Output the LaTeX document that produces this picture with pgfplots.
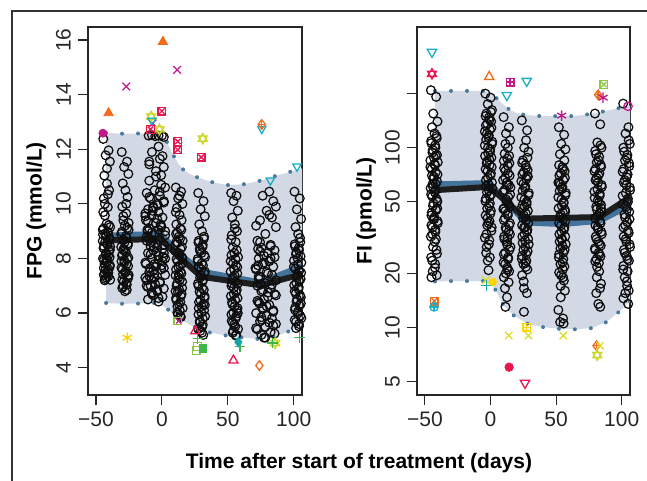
\documentclass[border=0pt]{standalone}
\usepackage{fontspec}
\setmainfont{Liberation Sans}
\usepackage{pgfplots}
\pgfplotsset{compat=1.18}
\usepackage{pgfplotstable}

\definecolor{bandfill}{HTML}{D3D9E4}
\definecolor{banddot}{HTML}{4A7A9E}
\definecolor{bluel}{HTML}{43729A}
\definecolor{blackl}{HTML}{1E1E1E}
\definecolor{cmag}{HTML}{C2188C}
\definecolor{corange}{HTML}{F26A1B}
\definecolor{ccrim}{HTML}{E8174F}
\definecolor{cyg}{HTML}{CDD62A}
\definecolor{ccyan}{HTML}{19AFC6}
\definecolor{cgold}{HTML}{FFD400}
\definecolor{cgreen}{HTML}{3DB54A}
\definecolor{clime}{HTML}{8DC63F}
\definecolor{cteal}{HTML}{15A3A8}
\definecolor{cyel}{HTML}{D9DE2A}

% FPG circles (day, mmol/L)
\pgfplotstableread{
x y
-44.4 12.38
-40.4 11.96
-42.6 11.78
-39.4 11.55
-43.6 11.04
-41.6 10.74
-40.0 10.5
-44.0 10.2
-41.0 9.88
-43.2 9.58
-42.0 9.27
-39.2 9.15
-44.8 9.05
-40.8 8.95
-42.2 8.82
-39.8 8.7
-43.0 8.6
-41.2 8.5
-44.2 8.38
-40.2 8.27
-42.4 8.15
-39.6 8.05
-43.8 7.95
-41.8 7.85
-39.4 7.75
-44.0 7.65
-41.0 7.55
-43.2 7.45
-40.6 7.35
-42.8 7.25
-44.6 8.88
-39.2 8.44
-42.0 8.0
-40.4 7.6
-43.4 7.2
-30.4 11.9
-26.4 11.55
-28.6 11.35
-25.4 11.1
-29.6 10.75
-27.6 10.5
-26.0 10.25
-30.0 9.9
-27.0 9.65
-29.2 9.4
-28.0 9.2
-25.2 9.05
-30.8 8.9
-26.8 8.75
-28.2 8.6
-25.8 8.48
-29.0 8.35
-27.2 8.22
-30.2 8.1
-26.2 7.98
-28.4 7.85
-25.6 7.72
-29.8 7.6
-27.8 7.48
-25.4 7.35
-30.0 7.22
-27.0 7.1
-29.2 6.98
-26.6 6.85
-28.8 8.3
-30.6 7.9
-25.2 7.4
-10.0 12.5
-7.5 12.52
-5.0 12.48
-2.5 12.5
0.0 12.5
1.5 12.45
-2.5 12.1
-7.5 11.9
0.5 11.75
-9.5 11.55
1.5 11.35
-4.5 11.2
-0.5 11.05
-9.5 10.85
2.5 10.6
-5.5 10.5
-11.5 10.4
-1.5 10.3
-8.5 10.2
1.5 10.1
-3.5 10.0
-6.5 9.9
-10.5 9.8
-2.5 9.7
-7.5 9.6
0.5 9.5
-12.0 9.4
-4.5 9.3
-0.5 9.2
-9.5 9.1
2.5 9.0
-5.5 8.9
-11.5 8.8
-1.5 8.7
-8.5 8.6
1.5 8.5
-3.5 8.4
-6.5 8.3
-10.5 8.2
-2.5 8.1
-7.5 8.0
0.5 7.9
-12.0 7.8
-4.5 7.7
-0.5 7.6
-9.5 7.5
2.5 7.4
-5.5 7.3
-11.5 7.2
-1.5 7.1
-8.5 7.0
1.5 6.9
-3.5 6.8
-6.5 6.65
-10.5 6.5
-2.5 6.42
-7.0 9.75
-1.0 9.25
-10.0 8.75
-4.0 8.25
0.0 7.75
-8.0 7.25
-3.0 9.95
-11.0 9.05
-6.0 8.45
1.0 8.05
-9.0 7.65
-5.0 7.05
10.6 10.6
14.6 10.45
12.4 10.2
15.6 10.0
11.4 9.85
13.4 9.6
15.0 9.4
11.0 9.25
14.0 9.1
11.8 8.95
13.0 8.8
15.8 8.65
10.2 8.5
14.2 8.35
12.8 8.2
15.2 8.05
12.0 7.9
13.8 7.75
10.8 7.6
14.8 7.45
12.6 7.3
15.4 7.15
11.2 7.0
13.2 6.85
15.0 6.7
10.8 6.55
14.0 6.4
11.8 6.25
13.6 6.1
12.2 5.95
14.4 5.85
11.0 8.6
15.6 8.0
13.0 7.4
10.4 6.8
27.6 10.4
31.6 10.1
29.4 9.8
32.6 9.55
28.4 9.25
30.4 9.0
32.0 8.8
28.0 8.65
31.0 8.5
28.8 8.35
30.0 8.2
32.8 8.05
27.2 7.9
31.2 7.75
29.8 7.6
32.2 7.45
29.0 7.3
30.8 7.15
27.8 7.0
31.8 6.85
29.6 6.7
32.4 6.55
28.2 6.4
30.2 6.25
32.0 6.1
27.8 5.95
31.0 5.8
28.8 5.65
30.6 5.5
29.2 5.35
31.4 5.2
28.0 7.7
32.6 6.3
52.6 10.4
56.6 10.3
54.4 10.1
57.6 9.75
53.4 9.5
55.4 9.25
57.0 9.0
53.0 8.85
56.0 8.6
53.8 8.4
55.0 8.2
57.8 8.05
52.2 7.9
56.2 7.75
54.8 7.6
57.2 7.45
54.0 7.3
55.8 7.15
52.8 7.0
56.8 6.85
54.6 6.7
57.4 6.55
53.2 6.4
55.2 6.25
57.0 6.1
52.8 5.95
56.0 5.8
53.8 5.65
55.6 5.5
54.2 5.35
56.4 5.2
53.0 7.1
57.6 6.0
81.5 10.45
76.5 10.3
84.5 10.1
86.5 9.9
79.5 9.75
83.5 9.5
74.5 9.4
86.5 9.15
78.5 8.9
72.5 8.65
82.5 8.5
75.5 8.4
85.5 8.3
80.5 8.2
77.5 8.1
73.5 8.0
81.5 7.9
76.5 7.8
84.5 7.7
71.5 7.6
79.5 7.5
83.5 7.4
74.5 7.3
86.5 7.2
78.5 7.1
72.5 7.0
82.5 6.9
75.5 6.8
85.5 6.7
80.5 6.6
77.5 6.5
73.5 6.4
81.5 6.3
76.5 6.2
84.5 6.1
71.5 6.0
79.5 5.9
83.5 5.8
74.5 5.7
86.5 5.6
78.5 5.5
72.5 5.4
82.5 5.3
75.5 5.2
77.5 5.1
73.0 7.75
75.0 7.05
74.0 6.35
76.0 5.75
73.0 8.35
100.6 10.45
104.6 10.2
102.4 9.8
105.6 9.45
101.4 9.15
103.4 8.9
105.0 8.6
101.0 8.45
104.0 8.3
101.8 8.15
103.0 8.0
105.8 7.85
100.2 7.7
104.2 7.55
102.8 7.4
105.2 7.25
102.0 7.1
103.8 6.95
100.8 6.8
104.8 6.65
102.6 6.5
105.4 6.35
101.2 6.2
103.2 6.05
105.0 5.9
100.8 5.75
104.0 5.6
101.8 5.45
}\fpgdata

% FPG circles, further subjects in the dense parts of each visit
\pgfplotstableread{
x y
-40.2 9.22
-44.2 9.1
-41.2 8.98
-43.0 8.9
-39.8 8.76
-44.8 8.64
-41.8 8.55
-43.8 8.44
-39.4 8.32
-42.4 8.2
-40.8 8.1
-44.6 8.0
-41.4 7.9
-43.4 7.8
-39.6 7.7
-42.8 7.58
-40.6 7.48
-44.0 7.4
-42.0 7.3
-39.2 7.22
-43.2 10.0
-41.0 10.35
-44.4 9.7
-41.6 11.3
-26.2 9.12
-30.2 8.98
-27.2 8.82
-29.0 8.68
-25.8 8.55
-30.8 8.42
-27.8 8.28
-29.8 8.15
-25.4 8.03
-28.4 7.92
-26.8 7.8
-30.6 7.66
-27.4 7.54
-29.4 7.42
-25.6 7.28
-28.8 7.16
-26.6 7.04
-30.0 6.92
-28.0 6.8
-25.2 9.3
-29.2 9.55
-27.0 10.0
-1.5 10.45
-9.5 10.25
1.5 10.05
-6.5 9.85
-12.5 9.65
-3.5 9.45
-10.5 9.35
-0.5 9.15
-7.5 8.95
2.5 8.85
-11.5 8.65
-4.5 8.55
0.5 8.35
-8.5 8.15
-2.5 7.95
-12.5 7.85
1.5 7.65
-5.5 7.45
-9.5 7.35
-1.5 7.15
-10.5 6.95
-3.5 6.85
-7.5 6.7
0.5 6.6
-12.5 9.55
-2.5 9.05
-8.5 8.45
2.5 8.0
-6.5 7.55
-11.5 7.0
-0.5 10.7
-4.5 11.0
-9.5 11.45
-1.5 11.65
-10.5 9.0
1.5 8.2
-5.5 7.8
-12.5 7.3
-2.5 6.55
-7.5 6.75
14.8 9.05
10.8 8.9
13.8 8.72
12.0 8.58
15.2 8.42
10.2 8.28
13.2 8.12
11.2 7.98
15.6 7.82
12.6 7.68
14.2 7.52
10.4 7.38
13.6 7.22
11.6 7.08
15.4 6.92
12.2 6.78
14.4 6.62
11.0 6.48
13.0 6.32
15.8 6.18
11.8 6.02
14.0 5.9
10.6 9.7
13.4 10.3
31.8 8.72
27.8 8.58
30.8 8.42
29.0 8.28
32.2 8.12
27.2 7.98
30.2 7.82
28.2 7.68
32.6 7.52
29.6 7.38
31.2 7.22
27.4 7.08
30.6 6.92
28.6 6.78
32.4 6.62
29.2 6.48
31.4 6.32
28.0 6.18
30.0 6.02
32.8 5.88
28.8 5.72
31.0 5.58
27.6 5.42
30.4 5.28
56.8 8.3
52.8 8.12
55.8 7.98
54.0 7.82
57.2 7.68
52.2 7.52
55.2 7.38
53.2 7.22
57.6 7.08
54.6 6.92
56.2 6.78
52.4 6.62
55.6 6.48
53.6 6.32
57.4 6.18
54.2 6.02
56.4 5.88
53.0 5.72
55.0 5.58
57.8 5.42
53.8 5.28
56.0 5.18
52.6 8.7
55.4 9.1
82.5 8.45
74.5 8.25
85.5 8.05
77.5 7.85
71.0 7.65
80.5 7.45
73.5 7.25
83.5 7.05
76.5 6.85
86.5 6.65
72.5 6.45
79.5 6.25
84.5 6.05
75.5 5.85
81.5 5.65
71.5 5.45
85.5 5.25
78.5 5.1
74.5 8.6
82.5 8.0
73.5 7.35
80.5 6.75
76.5 6.15
84.5 5.55
71.5 9.2
81.5 9.6
104.8 8.75
100.8 8.52
103.8 8.38
102.0 8.22
105.2 8.08
100.2 7.92
103.2 7.78
101.2 7.62
105.6 7.48
102.6 7.32
104.2 7.18
100.4 7.02
103.6 6.88
101.6 6.72
105.4 6.58
102.2 6.42
104.4 6.28
101.0 6.12
103.0 5.98
105.8 5.82
101.8 5.68
104.0 5.52
}\fpgextra

% FI circles (day, pmol/L)
\pgfplotstableread{
x y
-45.4 209
-41.4 192
-43.6 155
-40.4 140
-44.6 130
-42.6 120
-41.0 113
-45.0 106
-42.0 100
-44.2 94
-43.0 88
-40.2 83
-45.8 78
-41.8 73
-43.2 69
-40.8 65
-44.0 61
-42.2 58
-45.2 55
-41.2 52
-43.4 49
-40.6 46
-44.8 43.5
-42.8 41
-40.4 39
-45.0 37
-42.0 35
-44.2 33
-41.6 31
-43.8 28
-40.8 25.7
-44.4 23.5
-42.4 21.5
-41.0 19.5
-45.0 19
-41.8 90
-44.6 70
-40.6 50
-43.6 40
-42.2 80
-44.0 63
-41.4 45
-3.9 200
0.1 190
-2.1 175
1.1 162
-3.1 155
-1.1 147
0.5 140
-3.5 133
-0.5 126
-2.7 120
-1.5 114
1.3 108
-4.3 103
-0.3 98
-1.7 93
0.7 88
-2.5 84
-0.7 80
-3.7 76
0.3 72
-1.9 68
1.1 64
-3.3 61
-1.3 58
0.5 55
-3.5 52
-0.5 49
-2.5 46
-0.1 43
-2.3 40.5
-1.5 38
0.9 36
-3.1 33
-0.9 30.5
-2.9 28
-0.5 24.5
-2.1 23.5
-1.5 20.8
10.0 148
14.0 130
11.8 120
15.0 110
10.8 92.6
12.8 87
14.4 82
10.4 77
13.4 72
11.2 68
12.4 64
15.2 60
9.6 56.5
13.6 53
12.2 50
14.6 47
11.4 44.5
13.2 42
10.2 39.5
14.2 37
12.0 35
14.8 33
10.6 31
12.6 29
14.4 27
10.2 25.5
13.4 24
11.2 22.5
13.0 21
11.6 20
13.8 17.8
11.0 16.5
12.6 14.7
11.4 13
14.0 62
10.4 46
13.0 31.5
11.0 58
23.9 142
27.9 125
25.7 100
28.9 95
24.7 85
26.7 80
28.3 75
24.3 71
27.3 67
25.1 63
26.3 59.5
29.1 56
23.5 53
27.5 50
26.1 47
28.5 44.5
25.3 42
27.1 39.5
24.1 37
28.1 35
25.9 33
28.7 31
24.5 29.5
26.5 28
28.3 26.5
24.1 25
27.3 23.5
25.1 22.5
26.9 21.7
25.5 16.5
27.7 15.5
25.5 12.2
27.9 70
24.5 48
26.5 36
52.1 130
56.1 118
53.9 105
57.1 98
52.9 92
54.9 78
56.5 74
52.5 70
55.5 66
53.3 62.5
54.5 59
57.3 56
51.7 53
55.7 50
54.3 47.5
56.7 45
53.5 42.5
55.3 40
52.3 38
56.3 36
54.1 34
56.9 32
52.7 30
54.7 28.5
56.5 27
52.3 25.5
55.5 24
53.3 22.5
55.1 21
53.7 19.5
55.9 18.2
53.5 14.7
55.3 11.2
53.1 10.7
55.7 10.5
52.5 64
56.9 44
54.1 31
79.6 155
83.6 135
81.4 107
84.6 100
80.4 92
82.4 85
84.0 80
80.0 76
83.0 72
80.8 68
82.0 64
84.8 60.5
79.2 57
83.2 54
81.8 51
84.2 48
81.0 45.5
82.8 43
79.8 40.5
83.8 38
81.6 36
84.4 34
80.2 32
82.2 30
84.0 28.5
79.8 27
83.0 25.5
80.8 24
82.6 22.8
81.2 21.7
83.4 16.5
80.6 15.5
82.2 13.5
83.6 13
80.2 66
84.2 46
101.1 176
105.1 130
102.9 120
106.1 105
101.9 95
103.9 88
105.5 82
101.5 76
104.5 71
102.3 66
103.5 62
106.3 58
100.7 54
104.7 50
103.3 47
105.7 44
102.5 41
104.3 38.5
101.3 36
105.3 33.5
103.1 31
105.9 29
101.7 27
103.7 25
105.5 23.5
101.3 22
104.5 20.5
102.3 19
104.1 17
102.7 15.5
104.9 13.5
}\fidata

% FI circles, further subjects in the dense parts of each visit
\pgfplotstableread{
x y
-41.2 116
-45.2 109
-42.2 103
-44.0 97
-40.8 91
-45.8 85
-42.8 81
-44.8 76
-40.4 71
-43.4 67
-41.8 63
-45.6 59.5
-42.4 56.5
-44.4 53.5
-40.6 50.5
-43.8 47.5
-41.6 45
-45.0 42
-43.0 40
-40.2 38
-44.2 36
-42.0 34
-45.4 32
-42.6 30
-41.2 27
-45.2 24.5
-42.2 22.5
-44.0 20.5
0.3 158
-3.7 150
-0.7 143
-2.5 136
0.7 129
-4.3 123
-1.3 117
-3.3 111
1.1 105
-1.9 100
-0.3 95
-4.1 90
-0.9 86
-2.9 82
0.9 78
-2.3 74
-0.1 70
-3.5 66
-1.5 62.5
1.3 59.5
-2.7 56.5
-0.5 53.5
-3.9 50.5
-1.1 47.5
0.3 44.5
-3.7 42
-0.7 39
-2.5 37
0.7 34.5
-4.3 31.5
-1.3 29
-3.3 26
14.2 90
10.2 84.5
13.2 79.5
11.4 74.5
14.6 70
9.6 66
12.6 62
10.6 58
15.0 55
12.0 51.5
13.6 48.5
9.8 45.5
13.0 43
11.0 40.5
14.8 38
11.6 36
13.8 34
10.4 32
12.4 30
15.2 28
11.2 26
13.4 24.5
10.0 23
12.8 21.5
14.2 20.5
10.2 19
13.2 100
11.4 105
28.1 88
24.1 82.5
27.1 77.5
25.3 73
28.5 69
23.5 65
26.5 61
24.5 57.5
28.9 54.5
25.9 51.5
27.5 48.5
23.7 46
26.9 43
24.9 40.5
28.7 38
25.5 36
27.7 34
24.3 32
26.3 30.5
29.1 29
25.1 27
27.3 25.5
23.9 24
26.7 22.8
28.1 21
24.1 19.5
27.1 110
25.3 18
56.3 85
52.3 80
55.3 76
53.5 72
56.7 68
51.7 64
54.7 60.5
52.7 57.5
57.1 54.5
54.1 51.5
55.7 49
51.9 46
55.1 43.5
53.1 41
56.9 39
53.7 37
55.9 35
52.5 33
54.5 31
57.3 29
53.3 27.5
55.5 26
52.1 24.5
54.9 23
56.3 21.8
52.3 20.2
55.3 19
53.5 17
56.7 16
51.7 12.5
83.8 103
79.8 96
82.8 89
81.0 83
84.2 78
79.2 74
82.2 70
80.2 66
84.6 62
81.6 58.5
83.2 55.5
79.4 52.5
82.6 49.5
80.6 47
84.4 44
81.2 41.5
83.4 39
80.0 37
82.0 35
84.8 33
80.8 31
83.0 29
79.6 27.5
82.4 26
83.8 24.8
79.8 23.3
82.8 20.5
81.0 19
84.2 17.5
105.3 110
101.3 100
104.3 91
102.5 85
105.7 79
100.7 73.5
103.7 68.5
101.7 64
106.1 60
103.1 56
104.7 52
100.9 48.5
104.1 45.5
102.1 42.5
105.9 40
102.7 37
104.9 34.5
101.5 32
103.5 30
106.3 28
102.3 26
104.5 24
101.1 21
103.9 18
105.3 16
101.3 14.5
}\fiextra

\pgfplotsset{
  panel/.style={
    scale only axis, height=184pt,
    xmin=-56, xmax=106.3,
    xtick={-50,0,50,100}, xticklabels={−50,0,50,100},
    tick align=outside, major tick length=5pt,
    xtick pos=left, ytick pos=left,
    axis line style={line width=0.7pt, black!85},
    tick style={line width=0.6pt, black!85},
    ticklabel style={font=\fontsize{10.5}{12}\selectfont, text=black!85},
    yticklabel style={rotate=90, anchor=south},
    clip=true,
  },
  circ/.style={only marks, mark=o, mark size=2.2pt, mark options={line width=0.62pt, draw=black!95}},
  band/.style={fill=bandfill, draw=none, forget plot},
  bdot/.style={banddot, line width=2pt, line cap=round, dash pattern=on 0pt off 8pt},
  om/.style={only marks, mark size=#1, mark options={solid, line width=0.65pt}},
  om/.default=2.4pt,
  dn/.style={mark=triangle, mark options={rotate=180, solid, line width=0.65pt}},
}

\begin{document}
\begin{tikzpicture}
\path[use as bounding box] (0,0) rectangle (323.5pt,240.5pt);
\draw[line width=0.6pt, black!80] (6pt,0pt) -- (6pt,235pt) -- (323.5pt,235pt);

% ---------------- Left panel: FPG ----------------
\begin{axis}[panel, at={(44pt,43pt)}, anchor=south west, width=107pt,
  ymin=3.0, ymax=16.48, ytick={4,6,8,10,12,14,16}, yticklabels={4,6,8,10,12,14,16}]
\addplot[band] coordinates {(-42.3,12.6) (-29.5,12.57) (-17.4,12.58) (-5.3,12.58) (0,12.48) (3.8,12.27) (6.5,12.0) (9.1,11.75) (12.5,11.48) (15.9,11.27) (21,11.1) (26.5,10.98) (37.9,10.8) (50,10.69) (62,10.72) (74,10.84) (86,11.02) (97.7,11.18) (110,11.35)
 (110,5.6) (97.7,5.36) (86,5.14) (74,5.05) (62,5.1) (49.7,5.17) (37,5.28) (26.3,5.45) (16,5.72) (10,5.9) (5.5,6.1) (0,6.3) (-5,6.37) (-17.4,6.35) (-29.5,6.34) (-42.3,6.37)} -- cycle;
\addplot[bdot] coordinates {(-42.3,12.6) (-29.5,12.57) (-17.4,12.58) (-5.3,12.58) (0,12.48) (3.8,12.27) (6.5,12.0) (9.1,11.75) (12.5,11.48) (15.9,11.27) (21,11.1) (26.5,10.98) (37.9,10.8) (50,10.69) (62,10.72) (74,10.84) (86,11.02) (97.7,11.18) (110,11.35)};
\addplot[bdot] coordinates {(-42.3,6.37) (-29.5,6.34) (-17.4,6.35) (-5,6.37) (0,6.3) (5.5,6.1) (10,5.9) (16,5.72) (26.3,5.45) (37,5.28) (49.7,5.17) (62,5.1) (74,5.05) (86,5.14) (97.7,5.36) (110,5.6)};
\addplot[circ] table {\fpgdata};
\addplot[circ] table {\fpgextra};
\addplot[bluel, line width=3pt, line join=round] coordinates {(-42,8.84) (-1,8.9) (13,8.18) (30,7.52) (75,7.12) (108,7.75)};
\addplot[blackl, line width=3pt, line join=round] coordinates {(-42,8.66) (-1,8.72) (13,8.06) (30,7.33) (75,7.02) (108,7.45)};
% outliers
\addplot[om=2pt, mark=*, cmag, mark options={fill=cmag}] coordinates {(-44.7,12.59)};
\addplot[om=2.7pt, mark=triangle*, corange, mark options={fill=corange}] coordinates {(-40.4,13.33) (0.8,15.94)};
\addplot[om=2.7pt, mark=x, cmag] coordinates {(-27,14.3) (11.6,14.91) (-7,12.95)};
\addplot[om=2.6pt, mark=triangle, cyg] coordinates {(-8.1,13.2) (-1.8,12.73) (31,12.39) (85.9,4.9)};
\addplot[om=2.6pt, dn, cyg] coordinates {(-8.1,13.2) (-1.8,12.73) (31,12.39) (85.9,4.9)};
\addplot[om=2.4pt, dn, ccyan] coordinates {(-7.5,13.05) (75.8,12.75) (82.3,10.86) (102.5,11.37)};
\addplot[om=1.9pt, mark=square, ccrim] coordinates {(0,13.4) (-8.6,12.73) (12.1,12.29) (12.1,11.98) (29.8,11.71)};
\addplot[om=1.9pt, mark=x, ccrim] coordinates {(0,13.4) (-8.6,12.73) (12.1,12.29) (12.1,11.98) (29.8,11.71)};
\addplot[om=2.4pt, mark=diamond, corange] coordinates {(75.8,12.91) (74,4.08)};
\addplot[om=1.9pt, mark=+, corange] coordinates {(75.8,12.91)};
\addplot[om=2.6pt, mark=asterisk, cgold] coordinates {(-26.3,5.1)};
\addplot[om=1.9pt, mark=square, clime] coordinates {(12.1,5.71) (26,4.63) (27,4.78)};
\addplot[om=1.7pt, mark=x, cmag] coordinates {(12.8,5.71)};
\addplot[om=2.6pt, mark=triangle, ccrim] coordinates {(25.3,5.34) (54.3,4.27)};
\addplot[om=2.6pt, mark=+, cgreen] coordinates {(27.3,5.06) (59.3,4.78) (84,4.9) (104.5,5.1)};
\addplot[om=1.9pt, mark=square*, cgreen, mark options={fill=cgreen}] coordinates {(31,4.7)};
\addplot[om=2.4pt, mark=diamond*, cteal, mark options={fill=cteal}] coordinates {(58,4.94)};
\end{axis}

% ---------------- Right panel: FI ----------------
\begin{axis}[panel, at={(208.5pt,43pt)}, anchor=south west, width=106.5pt,
  ymode=log, ymin=4.2, ymax=470, yminorticks=false,
  ytick={5,10,20,50,100,200}, yticklabels={5,10,20,50,100,{}}]
\addplot[band] coordinates {(-42.3,207) (-29.4,207) (-17.2,207) (-5.1,207) (0,203) (4.8,188) (9.5,175) (13.9,164) (19,157) (25.3,152.7) (38.2,150) (50.4,150) (62.6,150) (74.7,153.5) (87.6,160) (99,167) (110,174)
 (110,14.8) (98.5,12.3) (88.4,10.7) (77,9.9) (65,9.75) (53,9.8) (41,10.0) (29,10.4) (18,11.6) (10,13.2) (4,16.1) (0,17.6) (-5.1,18.1) (-17.5,18.1) (-29.6,18.1) (-42.3,18)} -- cycle;
\addplot[bdot] coordinates {(-42.3,207) (-29.4,207) (-17.2,207) (-5.1,207) (0,203) (4.8,188) (9.5,175) (13.9,164) (19,157) (25.3,152.7) (38.2,150) (50.4,150) (62.6,150) (74.7,153.5) (87.6,160) (99,167) (110,174)};
\addplot[bdot] coordinates {(-42.3,18) (-29.6,18.1) (-17.5,18.1) (-5.1,18.1) (0,17.6) (4,16.1) (10,13.2) (18,11.6) (29,10.4) (41,10.0) (53,9.8) (65,9.75) (77,9.9) (88.4,10.7) (98.5,12.3) (110,14.8)};
\addplot[circ] table {\fidata};
\addplot[circ] table {\fiextra};
\addplot[bluel, line width=3pt, line join=round] coordinates {(-43,62.5) (-1,63.5) (27,38.3) (55,37.6) (83,39.2) (108,48.5)};
\addplot[blackl, line width=3pt, line join=round] coordinates {(-43,58) (-1,60.5) (27,40.3) (83,41.1) (108,54)};
% outliers
\addplot[om=2.7pt, dn, ccyan] coordinates {(-44.6,341) (12.4,196) (27.6,235)};
\addplot[om=2.6pt, mark=triangle, ccrim] coordinates {(-44.6,258)};
\addplot[om=2.6pt, dn, ccrim] coordinates {(-44.6,258)};
\addplot[om=2.7pt, mark=triangle, corange] coordinates {(-1,248)};
\addplot[om=1.9pt, mark=square, cmag] coordinates {(14.9,232)};
\addplot[om=1.9pt, mark=+, cmag] coordinates {(14.9,232)};
\addplot[om=1.9pt, mark=square, clime] coordinates {(86.3,225)};
\addplot[om=1.9pt, mark=x, clime] coordinates {(86.3,225)};
\addplot[om=2.4pt, mark=diamond, corange] coordinates {(82,197) (80.8,7.9)};
\addplot[om=1.9pt, mark=+, corange] coordinates {(82,197) (80.8,7.9)};
\addplot[om=2.6pt, mark=asterisk, cmag] coordinates {(85.8,190) (54.2,151)};
\addplot[om=2.1pt, mark=o, cmag] coordinates {(104.8,170)};
\addplot[om=2.6pt, mark=x, cyel] coordinates {(-3.6,18.3) (13.9,9.0) (28.9,9.0) (55.5,9.0) (83.5,7.9)};
\addplot[om=2.6pt, mark=+, cteal] coordinates {(-3,17.1)};
\addplot[om=1.9pt, mark=*, cgold, mark options={fill=cgold}] coordinates {(1.7,17.9)};
\addplot[om=1.9pt, mark=square, corange] coordinates {(-42.8,14)};
\addplot[om=1.9pt, mark=x, corange] coordinates {(-42.8,14)};
\addplot[om=2.1pt, mark=o, ccyan] coordinates {(-43,13)};
\addplot[om=2.1pt, mark=+, ccyan] coordinates {(-43,13)};
\addplot[om=1.9pt, mark=square, cgold] coordinates {(27.6,10.0)};
\addplot[om=1.9pt, mark=+, cgold] coordinates {(27.6,10.0)};
\addplot[om=2.6pt, mark=triangle, cyg] coordinates {(81.3,7.0)};
\addplot[om=2.6pt, dn, cyg] coordinates {(81.3,7.0)};
\addplot[om=2.1pt, mark=*, ccrim, mark options={fill=ccrim}] coordinates {(14.2,6.0)};
\addplot[om=2.7pt, dn, ccrim] coordinates {(26.3,4.9)};
\end{axis}

\node[anchor=base, rotate=90, font=\bfseries\fontsize{10.5}{12}\selectfont] at (20.8pt,135pt) {FPG (mmol/L)};
\node[anchor=base, rotate=90, font=\bfseries\fontsize{10.5}{12}\selectfont] at (185.8pt,135pt) {FI (pmol/L)};
\node[anchor=base, font=\bfseries\fontsize{10.5}{12}\selectfont] at (179.5pt,6.3pt) {Time after start of treatment (days)};
\end{tikzpicture}
\end{document}
